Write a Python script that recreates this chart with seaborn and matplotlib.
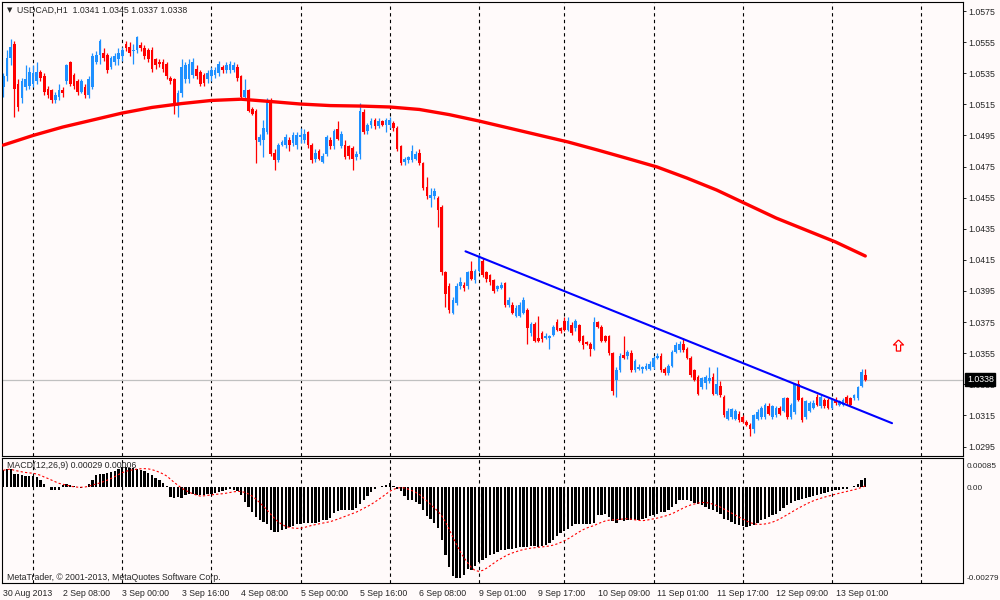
import numpy as np
import pandas as pd
import matplotlib
matplotlib.use("Agg")
import matplotlib.pyplot as plt
from matplotlib.path import Path
import matplotlib.transforms as mtransforms
import seaborn as sns

# USDCAD H1 candles, values in pips above 1.0000 (526 -> 1.0526)
opens = [
    526, 533, 545, 554, 528, 519, 526, 527, 528, 530,
    536, 533, 525, 524, 518, 520, 524, 530, 542, 534,
    530, 523, 526, 521, 526, 542, 547, 548, 547, 539,
    542, 544, 546, 554, 552, 549, 550, 553, 551, 550,
    550, 544, 542, 542, 541, 532, 531, 514, 522, 531,
    531, 534, 538, 536, 534, 531, 533, 534, 535, 539,
    537, 537, 537, 539, 533, 520, 524, 512, 511, 491,
    492, 497, 517, 484, 479, 489, 489, 492, 490, 489,
    494, 492, 497, 489, 480, 485, 478, 483, 492, 488,
    499, 488, 489, 488, 487, 481, 483, 510, 498, 502,
    505, 501, 504, 502, 502, 503, 500, 488, 478, 479,
    479, 480, 484, 477, 462, 455, 456, 455, 449, 407,
    398, 381, 387, 398, 399, 398, 408, 402, 408, 414,
    407, 405, 402, 396, 397, 400, 386, 386, 379, 379,
    381, 383, 368, 374, 365, 368, 365, 365, 367, 375,
    371, 376, 370, 373, 371, 373, 366, 362, 361, 358,
    375, 372, 366, 366, 355, 338, 344, 354, 353, 355,
    344, 345, 345, 345, 345, 346, 352, 353, 345, 342,
    347, 356, 357, 361, 358, 352, 344, 340, 333, 336,
    337, 340, 329, 334, 327, 313, 314, 313, 316, 314,
    311, 309, 306, 313, 314, 314, 321, 314, 315, 320,
    318, 326, 314, 317, 335, 326, 314, 318, 320, 327,
    321, 325, 325, 320, 325, 322, 322, 327, 326, 326,
    326, 334, 341,
]
highs = [
    535, 550, 557, 556, 531, 532, 540, 539, 540, 542,
    537, 535, 527, 525, 523, 528, 526, 541, 543, 535,
    531, 531, 528, 533, 548, 549, 557, 551, 548, 546,
    548, 551, 552, 556, 555, 554, 559, 555, 553, 551,
    552, 545, 544, 544, 542, 533, 532, 524, 544, 542,
    544, 545, 540, 537, 535, 537, 539, 539, 543, 540,
    542, 543, 542, 541, 534, 531, 525, 513, 512, 496,
    505, 519, 519, 486, 490, 492, 496, 494, 497, 497,
    500, 499, 498, 490, 486, 486, 484, 495, 494, 499,
    504, 498, 492, 489, 488, 485, 516, 512, 503, 506,
    506, 506, 505, 506, 507, 504, 501, 489, 481, 482,
    489, 485, 486, 478, 468, 461, 461, 456, 450, 408,
    400, 391, 400, 404, 401, 408, 414, 409, 419, 416,
    408, 406, 403, 399, 401, 401, 391, 388, 386, 388,
    391, 384, 375, 375, 379, 369, 368, 367, 373, 377,
    372, 378, 378, 375, 377, 374, 367, 363, 362, 378,
    376, 373, 367, 367, 356, 346, 355, 366, 357, 357,
    351, 348, 347, 349, 350, 353, 355, 355, 346, 348,
    357, 362, 363, 365, 359, 353, 345, 341, 340, 341,
    346, 342, 346, 337, 328, 320, 320, 319, 318, 315,
    312, 310, 316, 319, 321, 323, 323, 322, 321, 321,
    327, 327, 323, 336, 338, 327, 325, 324, 325, 329,
    328, 326, 326, 326, 327, 325, 326, 328, 327, 329,
    334, 345, 345,
]
lows = [
    520, 530, 540, 507, 511, 516, 524, 525, 526, 528,
    530, 521, 519, 516, 516, 518, 520, 528, 527, 525,
    521, 522, 519, 519, 525, 541, 541, 543, 535, 538,
    540, 540, 543, 549, 546, 541, 548, 549, 544, 542,
    536, 538, 539, 536, 531, 528, 509, 507, 520, 529,
    529, 532, 531, 527, 527, 529, 530, 532, 533, 535,
    535, 535, 536, 530, 519, 519, 510, 508, 477, 489,
    481, 496, 482, 473, 478, 488, 487, 485, 488, 486,
    490, 490, 487, 477, 478, 479, 477, 482, 486, 486,
    492, 487, 480, 480, 473, 479, 480, 496, 496, 500,
    499, 500, 501, 497, 500, 498, 485, 476, 476, 477,
    478, 479, 476, 460, 454, 449, 454, 436, 405, 385,
    381, 380, 386, 396, 395, 396, 402, 400, 407, 404,
    401, 399, 394, 395, 396, 385, 385, 380, 378, 378,
    380, 361, 366, 362, 362, 362, 364, 358, 366, 369,
    368, 369, 369, 367, 369, 362, 358, 360, 353, 357,
    371, 362, 362, 354, 328, 327, 343, 351, 351, 343,
    343, 344, 342, 344, 344, 345, 351, 343, 341, 341,
    346, 355, 356, 356, 351, 340, 337, 328, 332, 332,
    336, 328, 328, 327, 314, 312, 313, 312, 311, 310,
    308, 302, 304, 312, 313, 313, 315, 313, 314, 315,
    317, 313, 313, 316, 324, 311, 313, 317, 319, 321,
    320, 320, 319, 319, 322, 321, 321, 322, 321, 325,
    325, 333, 337,
]
closes = [
    533, 545, 552, 525, 513, 530, 531, 536, 535, 536,
    532, 523, 521, 518, 521, 524, 522, 540, 528, 527,
    523, 530, 521, 531, 546, 547, 556, 545, 537, 545,
    546, 548, 550, 551, 548, 550, 558, 551, 546, 544,
    538, 540, 541, 538, 533, 530, 514, 522, 539, 540,
    541, 542, 533, 528, 529, 535, 537, 537, 541, 537,
    540, 541, 540, 532, 520, 524, 511, 509, 492, 494,
    500, 517, 483, 479, 489, 491, 494, 489, 495, 495,
    495, 496, 489, 479, 484, 480, 482, 494, 488, 498,
    493, 496, 481, 482, 480, 483, 511, 497, 502, 504,
    501, 504, 502, 505, 505, 500, 486, 477, 480, 481,
    485, 483, 477, 461, 456, 457, 459, 447, 407, 393,
    383, 389, 398, 401, 397, 407, 403, 408, 417, 405,
    403, 401, 395, 398, 399, 386, 389, 381, 384, 386,
    389, 371, 374, 363, 363, 364, 366, 366, 372, 370,
    369, 370, 376, 368, 376, 363, 360, 361, 358, 375,
    372, 363, 363, 355, 331, 344, 353, 352, 356, 344,
    350, 346, 346, 347, 348, 352, 353, 344, 342, 347,
    356, 360, 361, 357, 352, 341, 338, 329, 339, 340,
    339, 329, 335, 328, 315, 318, 319, 318, 312, 311,
    309, 306, 315, 317, 320, 322, 316, 321, 320, 316,
    326, 314, 322, 335, 325, 312, 324, 323, 323, 322,
    327, 321, 320, 325, 323, 324, 325, 323, 322, 328,
    333, 343, 338,
]

# MACD(12,26,9) main line, in units of 0.0001
macd_main = [
    5.0, 5.5, 5.5, 4.0, 3.8, 3.5, 3.3, 3.3, 3.3, 3.1,
    2.1, 1.1, 0.15, -0.6, -0.8, -0.8, 0.8, 1.1, 0.6, 0.3,
    0.15, -0.1, 0.15, 1.1, 2.3, 3.5, 4.0, 4.0, 4.2, 4.5,
    4.8, 5.5, 6.0, 6.0, 5.8, 5.8, 5.5, 5.2, 4.8, 4.2,
    3.5, 2.9, 2.3, 1.3, 0.3, -2.8, -3.2, -2.8, -3.1, -2.1,
    -2.0, -2.0, -2.2, -2.3, -2.1, -2.0, -1.8, -1.6, -1.3, -1.0,
    -0.6, -0.3, -0.6, -1.0, -2.3, -4.2, -5.7, -7.1, -8.6, -9.6,
    -10.0, -10.5, -12.5, -13.0, -13.0, -12.5, -12.0, -11.5, -11.3, -10.7,
    -10.5, -10.3, -10.3, -10.3, -10.3, -10.0, -9.6, -9.4, -8.8, -7.4,
    -6.9, -6.6, -6.5, -6.6, -6.5, -5.9, -4.7, -3.5, -2.6, -1.3,
    -0.5, 0.15, 0.4, 0.7, 1.3, 0.5, -0.4, -1.0, -2.6, -3.5,
    -3.7, -4.1, -4.9, -6.6, -8.4, -9.3, -10.3, -11.7, -15.2, -19.8,
    -23.2, -25.9, -26.3, -26.3, -25.6, -23.6, -24.1, -22.9, -21.7, -21.0,
    -20.4, -19.8, -19.3, -18.7, -18.3, -18.3, -18.0, -17.8, -17.6, -17.3,
    -17.3, -17.3, -17.1, -17.1, -17.2, -17.0, -16.7, -16.2, -15.2, -14.2,
    -13.3, -12.7, -12.0, -11.3, -10.7, -10.7, -10.7, -10.7, -10.7, -10.3,
    -8.1, -8.1, -7.8, -8.6, -9.8, -10.3, -9.6, -9.8, -9.6, -9.6,
    -9.5, -9.4, -9.3, -8.9, -8.4, -7.9, -7.6, -7.1, -7.1, -6.6,
    -5.7, -4.7, -3.7, -3.5, -3.5, -3.9, -4.5, -4.7, -5.2, -5.7,
    -6.2, -6.6, -7.1, -7.6, -9.1, -9.6, -10.0, -10.5, -11.0, -11.3,
    -11.5, -11.3, -11.0, -10.3, -9.6, -9.1, -8.6, -8.1, -7.6, -6.8,
    -5.9, -5.2, -4.5, -3.9, -3.5, -3.4, -3.2, -2.8, -2.6, -2.3,
    -2.0, -1.6, -1.3, -1.0, -0.8, -0.6, -0.5, -0.3, 0.0, 0.3,
    1.1, 2.1, 2.9,
]

# red moving average, read every 8 bars (pips above 1.0000)
ma_bars = [0, 8, 16, 24, 32, 40, 48, 56, 64, 72, 80, 88, 96, 104, 112,
           120, 128, 136, 144, 152, 160, 168, 176, 184, 192, 200, 208, 216, 224, 232]
ma_pips = [488.8, 495.0, 500.4, 504.9, 509.4, 513.0, 515.5, 517.5, 518.3, 516.8,
           515.2, 514.2, 513.9, 513.3, 511.7, 508.4, 504.3, 499.8, 495.3, 490.8,
           485.6, 480.2, 474.7, 467.6, 459.9, 450.9, 441.9, 434.2, 426.5, 417.5]

# blue trend line and the red arrow object
trend_bars = [124.4, 239.2]
trend_pips = [420.5, 310.0]
arrow_bar = 240.8
arrow_pips = 360.2

# day separators and time axis labels
separator_bars = [8, 32, 56, 80, 104, 128, 151, 175, 199, 223, 247]
date_bars = [0, 16, 32, 48, 64, 80, 96, 112, 128, 144, 160, 176, 192, 208, 224]
date_labels = ['30 Aug 2013', '2 Sep 08:00', '3 Sep 00:00', '3 Sep 16:00', '4 Sep 08:00',
               '5 Sep 00:00', '5 Sep 16:00', '6 Sep 08:00', '9 Sep 01:00', '9 Sep 17:00',
               '10 Sep 09:00', '11 Sep 01:00', '11 Sep 17:00', '12 Sep 09:00', '13 Sep 01:00']
price_labels = ['1.0295', '1.0315', '1.0335', '1.0355', '1.0375', '1.0395', '1.0415',
                '1.0435', '1.0455', '1.0475', '1.0495', '1.0515', '1.0535', '1.0555', '1.0575']
macd_labels = ['0.00085', '0.00', '-0.00279']
macd_top, macd_bottom = 0.00085, -0.00279

BG = '#FFFAFA'
BULL = '#1E90FF'
BEAR = '#FF0000'

sns.set_style("white", {"axes.facecolor": BG, "figure.facecolor": BG,
                        "axes.edgecolor": "black"})
plt.rcParams['font.family'] = ['Liberation Sans', 'DejaVu Sans']
plt.rcParams['font.size'] = 6.3

df = pd.DataFrame({'open': opens, 'high': highs, 'low': lows, 'close': closes})
df = df / 10000 + 1.0
df['bar'] = np.arange(len(df))
df['macd'] = np.array(macd_main) / 10000
df['signal'] = df['macd'].rolling(9, min_periods=1).mean()

fig = plt.figure(figsize=(10, 6), dpi=100)
ax = fig.add_axes([0.002, 144 / 600, 0.961, 454 / 600])
axm = fig.add_axes([0.002, 16.7 / 600, 0.961, 125 / 600])

xlim = (-0.35, 258.3)

# --- price pane
for b in separator_bars:
    ax.axvline(b, color='black', lw=0.8, ls=(0, (3, 3)), zorder=1)
    axm.axvline(b, color='black', lw=0.8, ls=(0, (3, 3)), zorder=1)

ax.axhline(df['close'].iloc[-1], color='#C0C0C0', lw=0.9, zorder=1)

colors = np.where(df['close'] >= df['open'], BULL, BEAR)
ax.vlines(df['bar'], df['low'], df['high'], colors=colors, lw=0.9, zorder=2)
body = (df['close'] - df['open']).abs().clip(lower=0.00008)
ax.bar(df['bar'], body, bottom=df[['open', 'close']].min(axis=1), width=0.72,
       color=colors, linewidth=0, zorder=2)

sns.lineplot(x=ma_bars, y=np.array(ma_pips) / 10000 + 1.0, ax=ax, color='#FF0000',
             lw=2.4, sort=False, zorder=3)
sns.lineplot(x=trend_bars, y=np.array(trend_pips) / 10000 + 1.0, ax=ax, color='#0000FF',
             lw=1.5, sort=False, zorder=4)

arrow = Path([(0, 1), (-0.9, 0.1), (-0.38, 0.1), (-0.38, -1), (0.38, -1),
              (0.38, 0.1), (0.9, 0.1), (0, 1)])
ax.plot([arrow_bar], [arrow_pips / 10000 + 1.0], marker=arrow, ms=8, mfc=BG,
        mec='#FF0000', mew=0.9, ls='none', zorder=5)

ax.set_xlim(*xlim)
ax.set_ylim(1.02889, 1.05808)
ax.yaxis.tick_right()
ax.set_yticks([float(p) for p in price_labels], price_labels)
ax.tick_params(axis='y', length=2.5, width=0.7, pad=1.5, labelsize=6.3, direction='out')
ax.tick_params(axis='x', bottom=False, labelbottom=False)
ax.set_xlabel('')
ax.set_ylabel('')
for s in ax.spines.values():
    s.set_color('black')
    s.set_linewidth(0.8)

last = df.iloc[-1]
price_tr = mtransforms.blended_transform_factory(ax.transAxes, ax.transData)
ax.text(1.004, last['close'], f"{last['close']:.4f}", transform=price_tr, color='white',
        fontsize=6.3, ha='left', va='center', zorder=10, clip_on=False,
        bbox=dict(boxstyle='square,pad=0.2', fc='black', ec='black'))

fig.text(0.0065, 1 - 10 / 600, '\u25bc', family=['DejaVu Sans'], fontsize=5, va='center')
fig.text(0.017, 1 - 10 / 600,
         f"USDCAD,H1  {last['open']:.4f} {last['high']:.4f} {last['low']:.4f} {last['close']:.4f}",
         fontsize=6.3, va='center')

# --- MACD pane
axm.bar(df['bar'], df['macd'], width=0.62, color='black', linewidth=0, zorder=2)
sns.lineplot(x=df['bar'], y=df['signal'], ax=axm, color='#FF0000', lw=0.8,
             linestyle=(0, (2, 2)), zorder=3)
axm.set_xlim(*xlim)
axm.set_ylim(macd_bottom, macd_top)
span = macd_top - macd_bottom
axm.yaxis.tick_right()
axm.set_yticks([macd_top - span * 7 / 125, 0.0, macd_bottom + span * 6 / 125], macd_labels)
axm.tick_params(axis='y', length=0, pad=2.6, labelsize=5.9)
axm.set_xticks(date_bars, date_labels)
axm.tick_params(axis='x', length=2.5, width=0.7, pad=1.5, labelsize=6.3, direction='out')
for lab in axm.get_xticklabels():
    lab.set_horizontalalignment('left')
axm.set_xlabel('')
axm.set_ylabel('')
for s in axm.spines.values():
    s.set_color('black')
    s.set_linewidth(0.8)

fig.text(0.007, 1 - 466 / 600, 'MACD(12,26,9) 0.00029 0.00006', fontsize=6.3, va='center')
fig.text(0.007, 1 - 577 / 600, 'MetaTrader, \u00a9 2001-2013, MetaQuotes Software Corp.',
         fontsize=6.3, va='center')

fig.savefig('out.png', dpi=100, facecolor=BG)
